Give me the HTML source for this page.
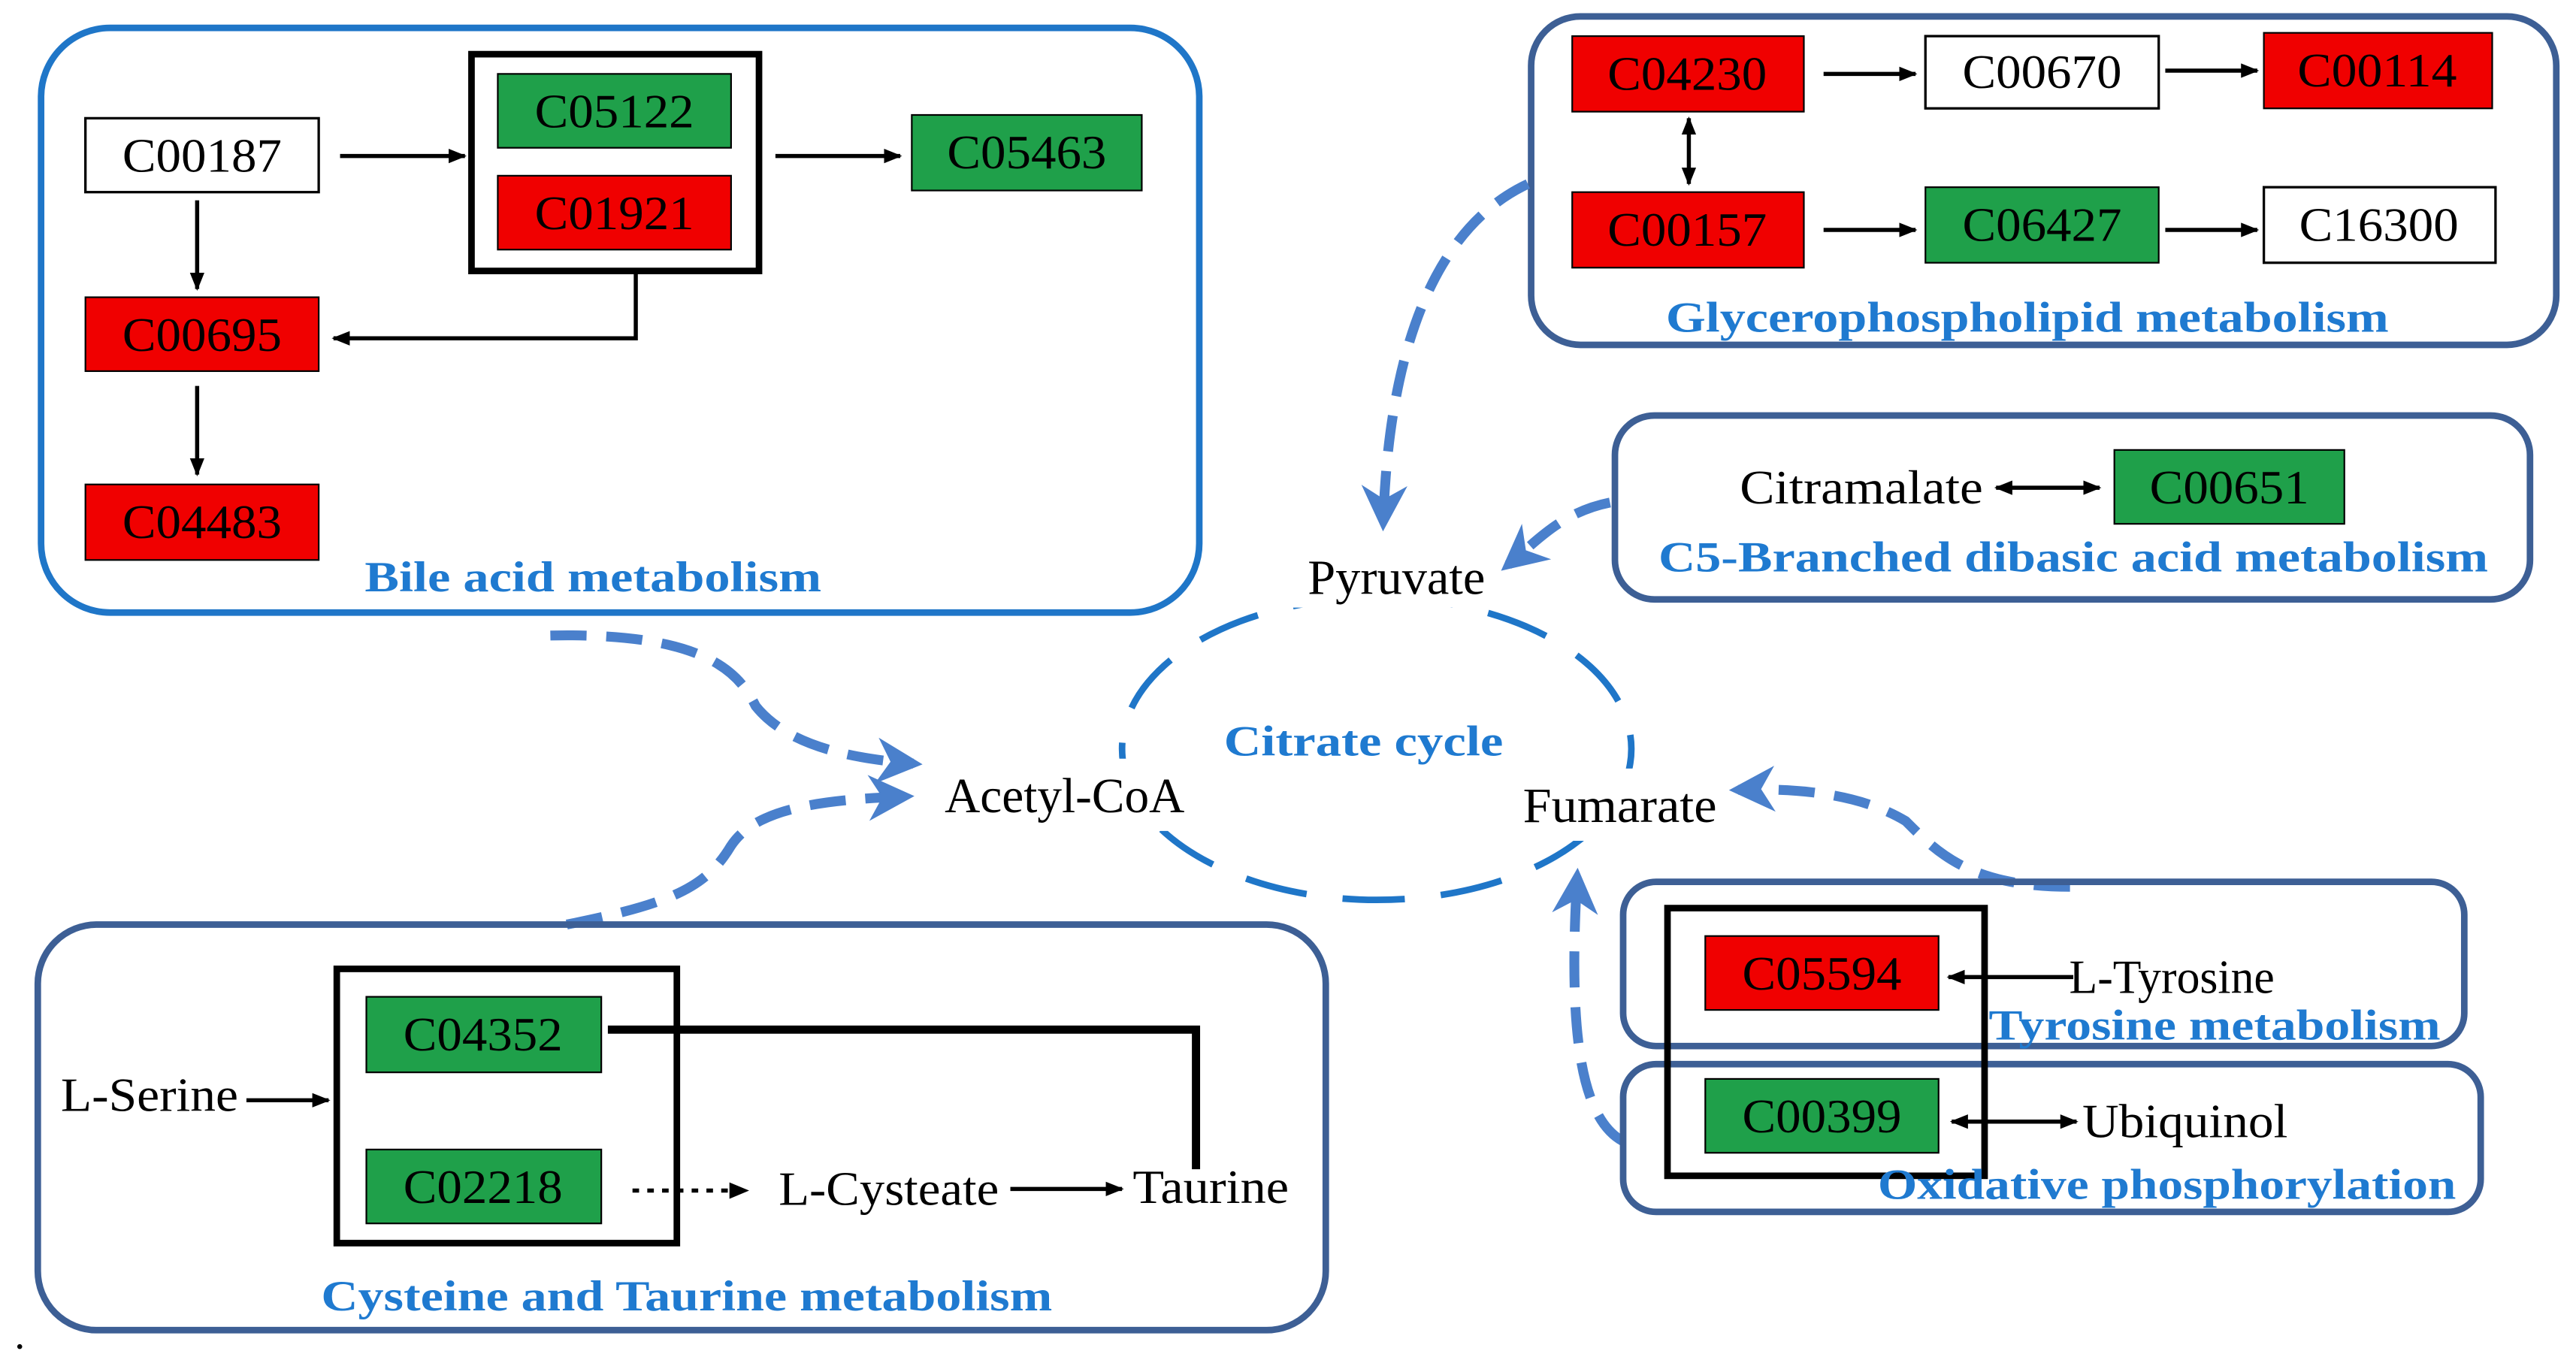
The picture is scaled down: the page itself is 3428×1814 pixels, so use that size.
<!DOCTYPE html>
<html><head><meta charset="utf-8"><style>
html,body{margin:0;padding:0;background:#fff;}
svg{display:block;}
text{font-family:"Liberation Serif",serif;}
.n{font-size:29px;fill:#000;text-anchor:middle;dominant-baseline:central;}
.c{font-size:30px;fill:#000;text-anchor:middle;dominant-baseline:central;}
.l{font-size:26px;font-weight:bold;fill:#1f7ad0;text-anchor:middle;}
.ar{stroke:#000;stroke-width:2.5;fill:none;}
.dash{stroke:#4a80cc;stroke-width:6;fill:none;stroke-dasharray:22 12;}
</style></head><body>
<svg width="3428" height="1814" viewBox="0 0 1568 830" preserveAspectRatio="none" xmlns="http://www.w3.org/2000/svg">
<defs>
<marker id="a" viewBox="0 0 10 10" refX="9" refY="5" markerWidth="11" markerHeight="11" orient="auto-start-reverse" markerUnits="userSpaceOnUse"><path d="M0,1 L10,5 L0,9 z" fill="#000"/></marker>
<marker id="b" viewBox="0 0 10 10" refX="8" refY="5" markerWidth="28" markerHeight="28" orient="auto" markerUnits="userSpaceOnUse"><path d="M0,0 L10,5 L0,10 L3,5 z" fill="#4a80cc"/></marker>
</defs>
<rect width="1568" height="830" fill="#fff"/>

<!-- Bile acid -->
<rect x="25" y="17" width="705" height="356" rx="42" fill="none" stroke="#1f76c8" stroke-width="4"/>
<rect x="52" y="72" width="142" height="45" fill="#fff" stroke="#000" stroke-width="1.5"/><text class="n" x="123" y="95" textLength="97" lengthAdjust="spacingAndGlyphs">C00187</text>
<rect x="287" y="33" width="175" height="132" fill="none" stroke="#000" stroke-width="4"/>
<rect x="303" y="45" width="142" height="45" fill="#1fa04a" stroke="#000" stroke-width="1"/><text class="n" x="374" y="68" textLength="97" lengthAdjust="spacingAndGlyphs">C05122</text>
<rect x="303" y="107" width="142" height="45" fill="#f00000" stroke="#000" stroke-width="1"/><text class="n" x="374" y="130" textLength="97" lengthAdjust="spacingAndGlyphs">C01921</text>
<rect x="555" y="70" width="140" height="46" fill="#1fa04a" stroke="#000" stroke-width="1"/><text class="n" x="625" y="93" textLength="97" lengthAdjust="spacingAndGlyphs">C05463</text>
<rect x="52" y="181" width="142" height="45" fill="#f00000" stroke="#000" stroke-width="1"/><text class="n" x="123" y="204" textLength="97" lengthAdjust="spacingAndGlyphs">C00695</text>
<rect x="52" y="295" width="142" height="46" fill="#f00000" stroke="#000" stroke-width="1"/><text class="n" x="123" y="318" textLength="97" lengthAdjust="spacingAndGlyphs">C04483</text>
<line class="ar" x1="207" y1="95" x2="283" y2="95" marker-end="url(#a)"/>
<line class="ar" x1="472" y1="95" x2="548" y2="95" marker-end="url(#a)"/>
<line class="ar" x1="120" y1="122" x2="120" y2="176" stroke-width="3" marker-end="url(#a)"/>
<line class="ar" x1="120" y1="235" x2="120" y2="289" stroke-width="3" marker-end="url(#a)"/>
<polyline class="ar" points="387,165 387,206 203,206" marker-end="url(#a)"/>
<text class="l" x="361" y="360" textLength="278" lengthAdjust="spacingAndGlyphs">Bile acid metabolism</text>

<!-- Glycerophospholipid -->
<rect x="932" y="10" width="624" height="200" rx="30" fill="none" stroke="#3d5f95" stroke-width="4"/>
<rect x="957" y="22" width="141" height="46" fill="#f00000" stroke="#000" stroke-width="1"/><text class="n" x="1027" y="45" textLength="97" lengthAdjust="spacingAndGlyphs">C04230</text>
<rect x="1172" y="22" width="142" height="44" fill="#fff" stroke="#000" stroke-width="1.5"/><text class="n" x="1243" y="44" textLength="97" lengthAdjust="spacingAndGlyphs">C00670</text>
<rect x="1378" y="20" width="139" height="46" fill="#f00000" stroke="#000" stroke-width="1"/><text class="n" x="1447" y="43" textLength="97" lengthAdjust="spacingAndGlyphs">C00114</text>
<rect x="957" y="117" width="141" height="46" fill="#f00000" stroke="#000" stroke-width="1"/><text class="n" x="1027" y="140" textLength="97" lengthAdjust="spacingAndGlyphs">C00157</text>
<rect x="1172" y="114" width="142" height="46" fill="#1fa04a" stroke="#000" stroke-width="1"/><text class="n" x="1243" y="137" textLength="97" lengthAdjust="spacingAndGlyphs">C06427</text>
<rect x="1378" y="114" width="141" height="46" fill="#fff" stroke="#000" stroke-width="1.5"/><text class="n" x="1448" y="137" textLength="97" lengthAdjust="spacingAndGlyphs">C16300</text>
<line class="ar" x1="1110" y1="45" x2="1166" y2="45" marker-end="url(#a)"/>
<line class="ar" x1="1318" y1="43" x2="1374" y2="43" marker-end="url(#a)"/>
<line class="ar" x1="1110" y1="140" x2="1166" y2="140" marker-end="url(#a)"/>
<line class="ar" x1="1318" y1="140" x2="1374" y2="140" marker-end="url(#a)"/>
<line class="ar" x1="1028" y1="72" x2="1028" y2="112" marker-start="url(#a)" marker-end="url(#a)"/>
<text class="l" x="1234" y="202" textLength="440" lengthAdjust="spacingAndGlyphs">Glycerophospholipid metabolism</text>

<!-- C5 -->
<rect x="983" y="253" width="557" height="112" rx="24" fill="none" stroke="#3d5f95" stroke-width="4"/>
<text class="n" x="1133" y="297" textLength="148" lengthAdjust="spacingAndGlyphs">Citramalate</text>
<line class="ar" x1="1215" y1="297" x2="1278" y2="297" marker-start="url(#a)" marker-end="url(#a)"/>
<rect x="1287" y="274" width="140" height="45" fill="#1fa04a" stroke="#000" stroke-width="1"/><text class="n" x="1357" y="297" textLength="97" lengthAdjust="spacingAndGlyphs">C00651</text>
<text class="l" x="1262" y="348" textLength="505" lengthAdjust="spacingAndGlyphs">C5-Branched dibasic acid metabolism</text>

<!-- Center -->
<ellipse cx="838" cy="456" rx="155" ry="92" fill="none" stroke="#1f76c8" stroke-width="4" stroke-dasharray="38 22"/>
<rect x="760" y="330" width="180" height="40" fill="#fff"/>
<rect x="555" y="462" width="180" height="44" fill="#fff"/>
<rect x="915" y="468" width="145" height="44" fill="#fff"/>
<text class="c" x="850" y="352" textLength="108" lengthAdjust="spacingAndGlyphs">Pyruvate</text>
<text class="c" x="648" y="485" textLength="146" lengthAdjust="spacingAndGlyphs">Acetyl-CoA</text>
<text class="c" x="986" y="491" textLength="118" lengthAdjust="spacingAndGlyphs">Fumarate</text>
<text class="l" x="830" y="460" textLength="170" lengthAdjust="spacingAndGlyphs">Citrate cycle</text>

<!-- dashed arrows -->
<path class="dash" d="M930,112 C870,140 845,220 842,318" marker-end="url(#b)"/>
<path class="dash" d="M980,306 C950,312 935,330 918,344" marker-end="url(#b)"/>
<path class="dash" d="M335,387 C430,385 450,410 460,430 C480,455 520,462 556,465" marker-end="url(#b)"/>
<path class="dash" d="M345,563 C410,550 430,540 445,515 C460,492 500,487 551,485" marker-end="url(#b)"/>
<path class="dash" d="M1260,540 C1200,540 1180,520 1160,500 C1130,482 1090,480 1058,481" marker-end="url(#b)"/>
<path class="dash" d="M988,695 C960,680 955,620 960,534" marker-end="url(#b)"/>

<!-- Cysteine -->
<rect x="23" y="563" width="784" height="247" rx="36" fill="none" stroke="#3d5f95" stroke-width="4"/>
<rect x="205" y="590" width="207" height="167" fill="none" stroke="#000" stroke-width="4"/>
<rect x="223" y="607" width="143" height="46" fill="#1fa04a" stroke="#000" stroke-width="1"/><text class="n" x="294" y="630" textLength="97" lengthAdjust="spacingAndGlyphs">C04352</text>
<rect x="223" y="700" width="143" height="45" fill="#1fa04a" stroke="#000" stroke-width="1"/><text class="n" x="294" y="723" textLength="97" lengthAdjust="spacingAndGlyphs">C02218</text>
<text class="n" x="91" y="667" textLength="108" lengthAdjust="spacingAndGlyphs">L-Serine</text>
<line class="ar" x1="150" y1="670" x2="200" y2="670" marker-end="url(#a)"/>
<polyline points="370,627 728,627 728,712" fill="none" stroke="#000" stroke-width="5"/>
<line x1="385" y1="725" x2="446" y2="725" stroke="#000" stroke-width="2.5" stroke-dasharray="4 5"/>
<path d="M444,720 L456,725 L444,730 z" fill="#000"/>
<text class="n" x="541" y="724" textLength="134" lengthAdjust="spacingAndGlyphs">L-Cysteate</text>
<line class="ar" x1="615" y1="724" x2="683" y2="724" marker-end="url(#a)"/>
<text class="n" x="737" y="723" textLength="95" lengthAdjust="spacingAndGlyphs">Taurine</text>
<text class="l" x="418" y="798" textLength="445" lengthAdjust="spacingAndGlyphs">Cysteine and Taurine metabolism</text>

<!-- Tyrosine / Oxidative -->
<rect x="988" y="537" width="512" height="100" rx="20" fill="none" stroke="#3d5f95" stroke-width="4"/>
<rect x="988" y="648" width="522" height="90" rx="20" fill="none" stroke="#3d5f95" stroke-width="4"/>
<rect x="1015" y="553" width="193" height="163" fill="none" stroke="#000" stroke-width="4"/>
<rect x="1038" y="570" width="142" height="45" fill="#f00000" stroke="#000" stroke-width="1"/><text class="n" x="1109" y="593" textLength="97" lengthAdjust="spacingAndGlyphs">C05594</text>
<rect x="1038" y="657" width="142" height="45" fill="#1fa04a" stroke="#000" stroke-width="1"/><text class="n" x="1109" y="680" textLength="97" lengthAdjust="spacingAndGlyphs">C00399</text>
<line class="ar" x1="1262" y1="595" x2="1186" y2="595" marker-end="url(#a)"/>
<text class="n" x="1322" y="595" textLength="125" lengthAdjust="spacingAndGlyphs">L-Tyrosine</text>
<line class="ar" x1="1188" y1="683" x2="1264" y2="683" marker-start="url(#a)" marker-end="url(#a)"/>
<text class="n" x="1330" y="683" textLength="125" lengthAdjust="spacingAndGlyphs">Ubiquinol</text>
<text class="l" x="1348" y="633" textLength="275" lengthAdjust="spacingAndGlyphs">Tyrosine metabolism</text>
<text class="l" x="1319" y="730" textLength="352" lengthAdjust="spacingAndGlyphs">Oxidative phosphorylation</text>

<circle cx="12" cy="820" r="1.5" fill="#000"/>
</svg>
</body></html>
